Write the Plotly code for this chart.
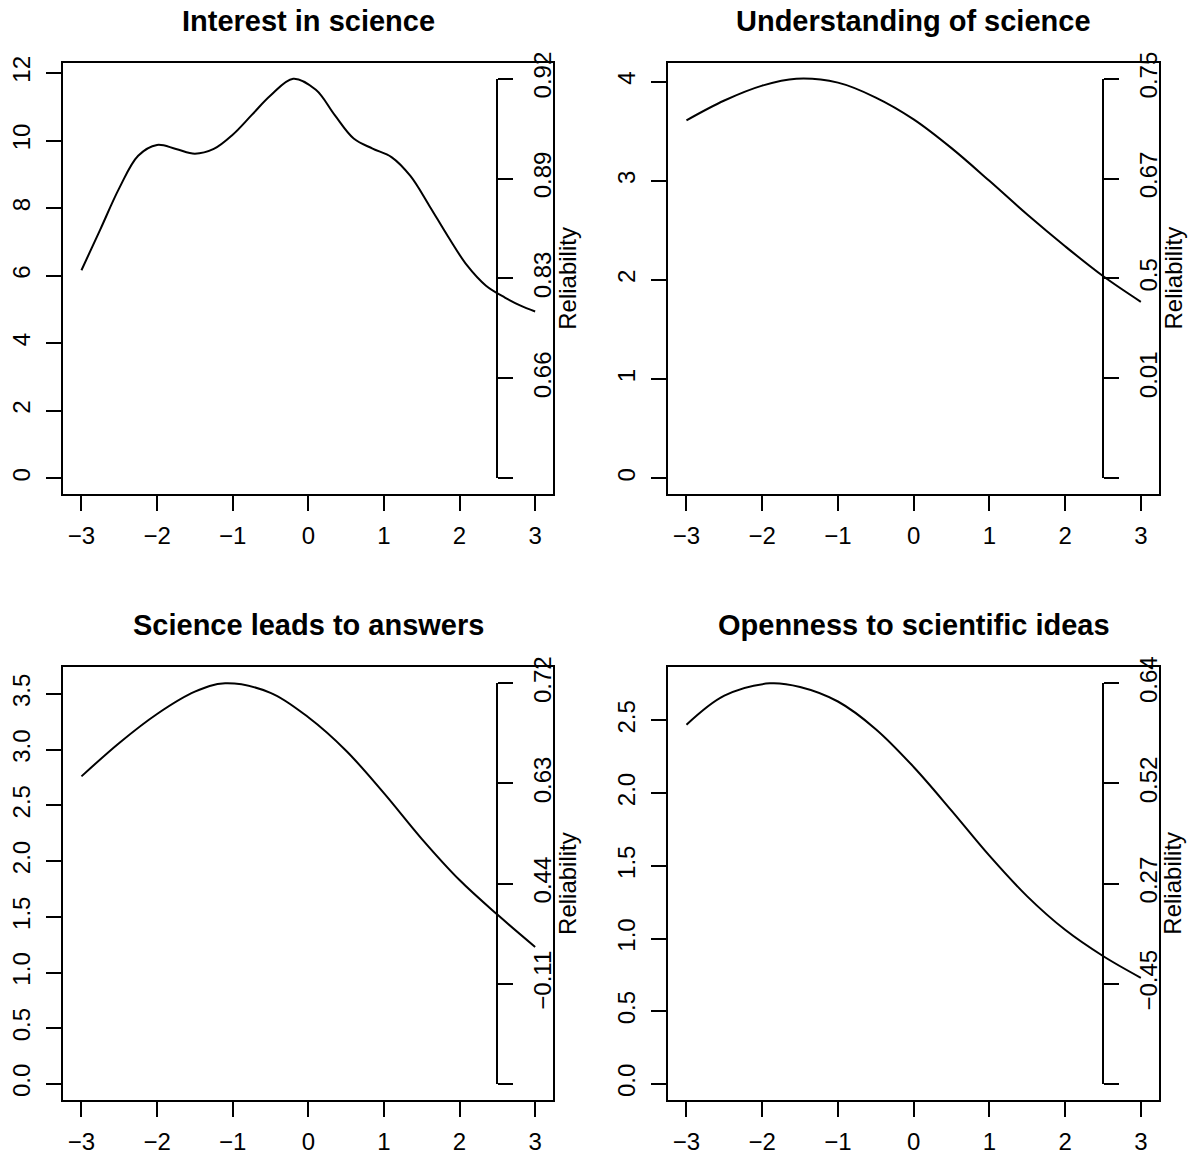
import plotly.graph_objects as go

W, H = 1193, 1160
FONT = "Liberation Sans, Arial, Helvetica, sans-serif"

# ---- data: test information curves over the latent trait ----
titles = [
    "Interest in science",
    "Understanding of science",
    "Science leads to answers",
    "Openness to scientific ideas",
]

theta_interest = [-3.0, -2.75, -2.5, -2.25, -2.0, -1.75, -1.5, -1.25, -1.0, -0.75, -0.5,
                  -0.2, 0.1, 0.35, 0.6, 0.85, 1.1, 1.35, 1.6, 1.85, 2.1, 2.35, 2.6, 2.8, 3.0]
info_interest = [6.16, 7.37, 8.59, 9.55, 9.87, 9.75, 9.61, 9.75, 10.17, 10.75, 11.33,
                 11.83, 11.50, 10.75, 10.06, 9.76, 9.51, 8.95, 8.07, 7.15, 6.30, 5.70, 5.35, 5.12, 4.94]

theta_understanding = [-3.0, -2.5, -2.0, -1.55, -1.0, -0.5, 0.0, 0.5, 1.0, 1.5, 2.0, 2.5, 3.0]
info_understanding = [3.61, 3.81, 3.96, 4.03, 3.99, 3.84, 3.62, 3.33, 3.00, 2.66, 2.34, 2.04, 1.78]

theta_answers = [-3.0, -2.5, -2.0, -1.5, -1.1, -0.5, 0.0, 0.5, 1.0, 1.5, 2.0, 2.5, 3.0]
info_answers = [2.76, 3.06, 3.32, 3.52, 3.595, 3.51, 3.29, 2.99, 2.61, 2.20, 1.83, 1.52, 1.23]

theta_openness = [-3.0, -2.5, -1.9, -1.5, -1.0, -0.5, 0.0, 0.5, 1.0, 1.5, 2.0, 2.5, 3.0]
info_openness = [2.47, 2.67, 2.755, 2.73, 2.63, 2.44, 2.18, 1.88, 1.57, 1.29, 1.06, 0.88, 0.73]

x_ticks = [-3, -2, -1, 0, 1, 2, 3]
y_dticks = [2, 1, 0.5, 0.5]
y_formats = ["d", "d", ".1f", ".1f"]

series = [
    (theta_interest, info_interest),
    (theta_understanding, info_understanding),
    (theta_answers, info_answers),
    (theta_openness, info_openness),
]

# ---- layout geometry (pixels) ----
cols = [(63.3, 553.3), (668.3, 1159.0)]
rows = [(62.7, 494.3), (667.3, 1100.0)]
XR = (-3.24, 3.24)
REL_AXIS_AT = 2.5


def rel_label(v):
    """Reliability 1 - 1/I, rounded to two decimals."""
    s = f"{round(1 - 1 / v, 2):g}"
    return s.replace("-", "\u2212")


fig = go.Figure()
layout = dict(
    template="none",
    width=W, height=H,
    margin=dict(l=0, r=0, t=0, b=0, pad=0),
    paper_bgcolor="white", plot_bgcolor="rgba(0,0,0,0)",
    font=dict(family=FONT, size=24, color="black"),
    showlegend=False,
    annotations=[],
)

common = dict(
    ticks="outside", ticklen=15, tickwidth=2, tickcolor="black",
    showline=True, linewidth=2, linecolor="black",
    showgrid=False, zeroline=False, automargin=False,
    tickfont=dict(family=FONT, size=24, color="black"),
)

for i, (theta, info) in enumerate(series):
    r, c = divmod(i, 2)
    left, right = cols[c]
    top, bottom = rows[r]
    xd = [left / W, right / W]
    yd = [1 - bottom / H, 1 - top / H]
    m = max(info)
    yr = (-0.04 * m, 1.04 * m)

    fig.add_trace(go.Scatter(
        x=theta, y=info, mode="lines",
        line=dict(color="black", width=2, shape="spline", smoothing=1.0),
        xaxis=f"x{i + 1}", yaxis=f"y{i + 1}", hoverinfo="skip",
    ))
    # empty trace that carries the reliability axis
    fig.add_trace(go.Scatter(
        x=[None], y=[None], mode="lines",
        xaxis=f"x{i + 1}", yaxis=f"y{i + 5}", hoverinfo="skip",
    ))

    layout[f"xaxis{i + 1}"] = dict(
        common, domain=xd, anchor=f"y{i + 1}", range=list(XR),
        tickmode="array", tickvals=x_ticks, mirror=True,
        ticklabelstandoff=4,
    )
    layout[f"yaxis{i + 1}"] = dict(
        common, domain=yd, anchor=f"x{i + 1}", range=list(yr),
        tick0=0, dtick=y_dticks[i], tickformat=y_formats[i],
        tickangle=-90, mirror=True, ticklabelstandoff=7,
    )

    # reliability axis: spans information 0..max, placed inside the box
    h = bottom - top
    p0 = bottom - (0.04 / 1.08) * h
    p1 = bottom - (1.04 / 1.08) * h
    rel_vals = [0, m / 4, m / 2, 3 * m / 4, m]
    rel_text = [""] + [rel_label(v) for v in rel_vals[1:]]
    xpos = xd[0] + (REL_AXIS_AT - XR[0]) / (XR[1] - XR[0]) * (xd[1] - xd[0])
    layout[f"yaxis{i + 5}"] = dict(
        common, domain=[1 - p0 / H, 1 - p1 / H], anchor="free", position=xpos,
        side="right", range=[0, m], tickmode="array", tickvals=rel_vals,
        ticktext=rel_text, tickangle=-90, ticklabelstandoff=9,
    )

    layout["annotations"].append(dict(
        text=titles[i], xref="paper", yref="paper",
        x=(xd[0] + xd[1]) / 2, y=1 - (top - 42.1) / H,
        xanchor="center", yanchor="middle", showarrow=False,
        font=dict(family=FONT, size=29, color="black", weight="bold"),
    ))
    layout["annotations"].append(dict(
        text="Reliability", xref="paper", yref="paper",
        x=right / W, y=1 - ((p0 + p1) / 2) / H, xshift=14,
        xanchor="center", yanchor="middle", textangle=-90, showarrow=False,
        font=dict(family=FONT, size=24, color="black"),
    ))

fig.update_layout(**layout)
fig.write_html("out.html")
